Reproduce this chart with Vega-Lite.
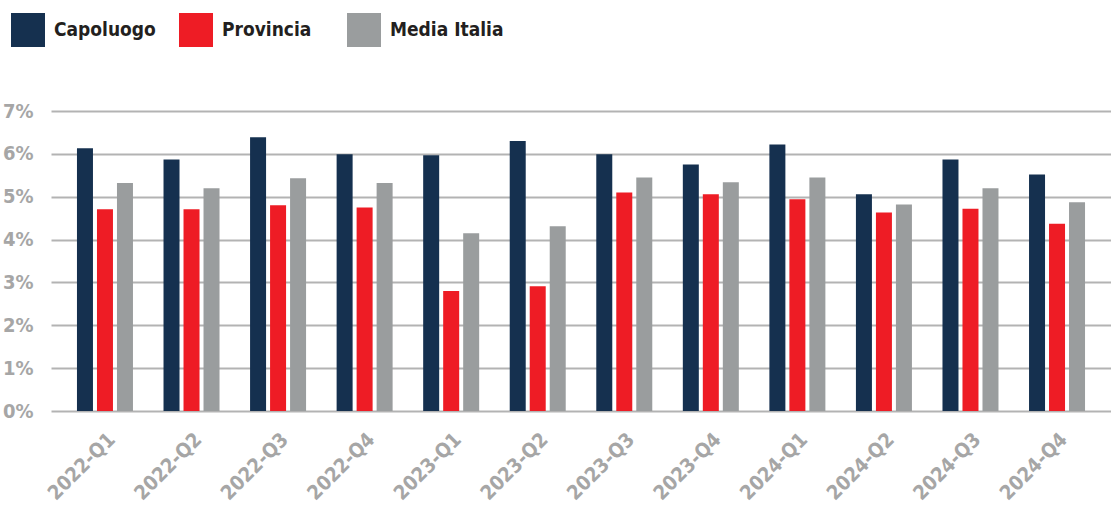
{
  "$schema": "https://vega.github.io/schema/vega-lite/v6.json",
  "width": 1060,
  "height": 300,
  "autosize": {"type": "none"},
  "padding": {"left": 51, "top": 111, "right": 0, "bottom": 96},
  "background": "white",
  "config": {
    "view": {"stroke": null},
    "font": "DejaVu Sans Condensed, sans-serif"
  },
  "data": {
    "values": [
      {"trimestre": "2022-Q1", "serie": "Capoluogo", "valore": 6.13},
      {"trimestre": "2022-Q1", "serie": "Provincia", "valore": 4.71},
      {"trimestre": "2022-Q1", "serie": "Media Italia", "valore": 5.32},
      {"trimestre": "2022-Q2", "serie": "Capoluogo", "valore": 5.87},
      {"trimestre": "2022-Q2", "serie": "Provincia", "valore": 4.71},
      {"trimestre": "2022-Q2", "serie": "Media Italia", "valore": 5.2},
      {"trimestre": "2022-Q3", "serie": "Capoluogo", "valore": 6.39},
      {"trimestre": "2022-Q3", "serie": "Provincia", "valore": 4.8},
      {"trimestre": "2022-Q3", "serie": "Media Italia", "valore": 5.43},
      {"trimestre": "2022-Q4", "serie": "Capoluogo", "valore": 5.99},
      {"trimestre": "2022-Q4", "serie": "Provincia", "valore": 4.75},
      {"trimestre": "2022-Q4", "serie": "Media Italia", "valore": 5.32},
      {"trimestre": "2023-Q1", "serie": "Capoluogo", "valore": 5.97},
      {"trimestre": "2023-Q1", "serie": "Provincia", "valore": 2.8},
      {"trimestre": "2023-Q1", "serie": "Media Italia", "valore": 4.15},
      {"trimestre": "2023-Q2", "serie": "Capoluogo", "valore": 6.3},
      {"trimestre": "2023-Q2", "serie": "Provincia", "valore": 2.91},
      {"trimestre": "2023-Q2", "serie": "Media Italia", "valore": 4.31},
      {"trimestre": "2023-Q3", "serie": "Capoluogo", "valore": 5.99},
      {"trimestre": "2023-Q3", "serie": "Provincia", "valore": 5.1},
      {"trimestre": "2023-Q3", "serie": "Media Italia", "valore": 5.45},
      {"trimestre": "2023-Q4", "serie": "Capoluogo", "valore": 5.75},
      {"trimestre": "2023-Q4", "serie": "Provincia", "valore": 5.06},
      {"trimestre": "2023-Q4", "serie": "Media Italia", "valore": 5.34},
      {"trimestre": "2024-Q1", "serie": "Capoluogo", "valore": 6.22},
      {"trimestre": "2024-Q1", "serie": "Provincia", "valore": 4.94},
      {"trimestre": "2024-Q1", "serie": "Media Italia", "valore": 5.45},
      {"trimestre": "2024-Q2", "serie": "Capoluogo", "valore": 5.06},
      {"trimestre": "2024-Q2", "serie": "Provincia", "valore": 4.63},
      {"trimestre": "2024-Q2", "serie": "Media Italia", "valore": 4.82},
      {"trimestre": "2024-Q3", "serie": "Capoluogo", "valore": 5.87},
      {"trimestre": "2024-Q3", "serie": "Provincia", "valore": 4.72},
      {"trimestre": "2024-Q3", "serie": "Media Italia", "valore": 5.2},
      {"trimestre": "2024-Q4", "serie": "Capoluogo", "valore": 5.52},
      {"trimestre": "2024-Q4", "serie": "Provincia", "valore": 4.37},
      {"trimestre": "2024-Q4", "serie": "Media Italia", "valore": 4.87}
    ]
  },
  "mark": {"type": "bar"},
  "encoding": {
    "x": {
      "field": "trimestre",
      "type": "nominal",
      "sort": null,
      "scale": {"paddingInner": 0.353, "paddingOuter": 0.3},
      "axis": {
        "title": null,
        "domain": false,
        "ticks": false,
        "grid": false,
        "labelAngle": -45,
        "labelFontSize": 20,
        "labelFontWeight": "bold",
        "labelColor": "#a6a6a6",
        "labelPadding": 18
      }
    },
    "xOffset": {
      "field": "serie",
      "type": "nominal",
      "sort": ["Capoluogo", "Provincia", "Media Italia"],
      "scale": {"paddingInner": 0.2}
    },
    "y": {
      "field": "valore",
      "type": "quantitative",
      "scale": {"domain": [0, 7], "nice": false},
      "axis": {
        "title": null,
        "values": [0, 1, 2, 3, 4, 5, 6, 7],
        "labelExpr": "datum.value + '%'",
        "domain": false,
        "ticks": false,
        "gridColor": "#b3b3b3",
        "gridWidth": 2,
        "labelFontSize": 20,
        "labelFontWeight": "bold",
        "labelColor": "#a6a6a6",
        "labelPadding": 18
      }
    },
    "color": {
      "field": "serie",
      "type": "nominal",
      "sort": ["Capoluogo", "Provincia", "Media Italia"],
      "scale": {
        "domain": ["Capoluogo", "Provincia", "Media Italia"],
        "range": ["#15304f", "#ee1c25", "#9a9d9e"]
      },
      "legend": {
        "title": null,
        "orient": "none",
        "legendX": -40,
        "legendY": -98,
        "direction": "horizontal",
        "gridAlign": "all",
        "padding": 0,
        "symbolType": "square",
        "symbolSize": 1156,
        "symbolStrokeWidth": 0,
        "symbolOpacity": 1,
        "labelFontSize": 19,
        "labelFontWeight": "bold",
        "labelColor": "#231f20",
        "labelOffset": 9,
        "columnPadding": 11
      }
    }
  }
}
